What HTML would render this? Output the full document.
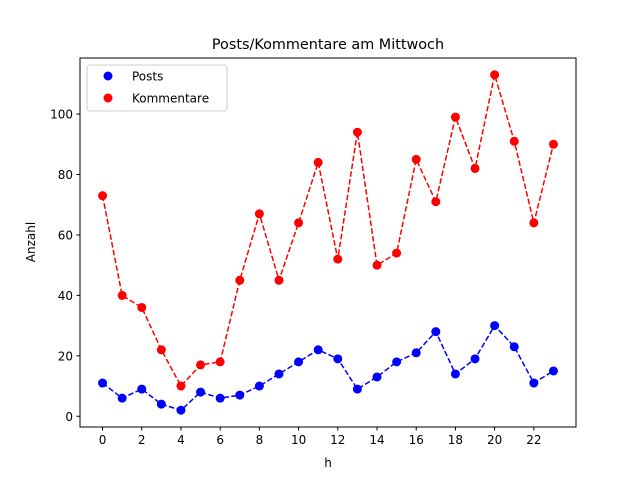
<!DOCTYPE html>
<html><head><meta charset="utf-8"><style>
body{margin:0;background:#fff;}
svg{display:block;font-family:"DejaVu Sans","Liberation Sans",sans-serif;}
</style></head><body>
<svg id="chart" width="640" height="480">
<rect width="640" height="480" fill="#fff"/>
<text x="328" y="49" text-anchor="middle" font-size="14.4">Posts/Kommentare am Mittwoch</text>
<g id="plot"></g>
<rect x="80" y="58" width="496" height="369" fill="none" stroke="#000" stroke-width="1"/>
<text x="328" y="467" text-anchor="middle" font-size="12">h</text>
<text transform="translate(35,242) rotate(-90)" text-anchor="middle" font-size="12">Anzahl</text>
<g>
<rect x="87" y="65" width="140" height="46" rx="3" fill="#fff" stroke="#ccc" stroke-width="1"/>
<circle cx="108" cy="76" r="4.5" fill="#0000ff"/>
<text x="132" y="80.5" font-size="12">Posts</text>
<circle cx="108" cy="98" r="4.5" fill="#ff0000"/>
<text x="132" y="102.5" font-size="12">Kommentare</text>
</g>
</svg>
<script>
const hours=[0,1,2,3,4,5,6,7,8,9,10,11,12,13,14,15,16,17,18,19,20,21,22,23];
const posts=[11,6,9,4,2,8,6,7,10,14,18,22,19,9,13,18,21,28,14,19,30,23,11,15];
const kommentare=[73,40,36,22,10,17,18,45,67,45,64,84,52,94,50,54,85,71,99,82,113,91,64,90];
const xTicks=[0,2,4,6,8,10,12,14,16,18,20,22];
const yTicks=[0,20,40,60,80,100];
const NS="http://www.w3.org/2000/svg";
const X0=80,X1=576,Y0=427,Y1=58;
const xmin=-1.15,xmax=24.15,ymin=-3.55,ymax=118.55;
const sx=v=>X0+(v-xmin)/(xmax-xmin)*(X1-X0);
const sy=v=>Y0-(v-ymin)/(ymax-ymin)*(Y0-Y1);
const g=document.getElementById('plot');
function mk(t,a){const e=document.createElementNS(NS,t);for(const k in a)e.setAttribute(k,a[k]);g.appendChild(e);return e;}
xTicks.forEach(t=>{
const l=mk('line',{x1:sx(t),x2:sx(t),y1:Y0,y2:Y0+3.5,stroke:'#000'});


const tx=mk('text',{x:sx(t),y:Y0+17,'text-anchor':'middle','font-size':'12'});tx.textContent=t;


});
yTicks.forEach(t=>{
const l=mk('line',{x1:X0-3.5,x2:X0,y1:sy(t),y2:sy(t),stroke:'#000'});


const tx=mk('text',{x:X0-7,y:sy(t)+4.5,'text-anchor':'end','font-size':'12'});tx.textContent=t;


});
function series(vals,color,name){
const pts=vals.map((v,i)=>sx(hours[i])+','+sy(v)).join(' ');
const pl=mk('polyline',{points:pts,fill:'none',stroke:color,'stroke-width':1.5,'stroke-dasharray':'5.5,2.4'});


vals.forEach((v,i)=>{
const c=mk('circle',{cx:sx(hours[i]),cy:sy(v),r:4.5,fill:color});


});
}
series(posts,'#0000ff','posts');
series(kommentare,'#ff0000','kommentare');
</script>
</body></html>
